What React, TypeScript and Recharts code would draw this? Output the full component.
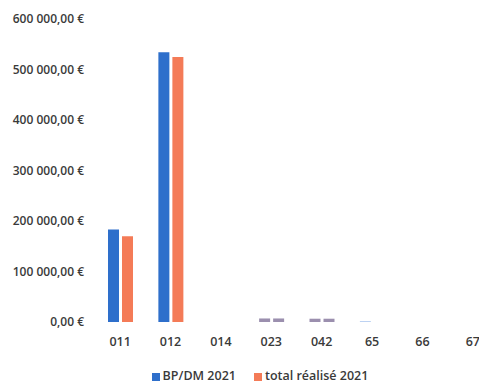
import { BarChart, Bar, XAxis, YAxis, Legend, Cell } from 'recharts';

const chapitres = ['011', '012', '014', '023', '042', '65', '66', '67'];
const bpDm2021 = [183000, 534000, 0, 7000, 6500, 1500, 0, 0];
const realise2021 = [170000, 525000, 0, 7000, 6500, 0, 0, 0];
const yTicks = [0, 100000, 200000, 300000, 400000, 500000, 600000];

const BLUE = '#2e6fcb';
const ORANGE = '#f47b57';
const GREY = '#9b8fae';
const PALE_BLUE = '#a8c4ee';

// small chapters come out in a muted tone
const bpColors = [BLUE, BLUE, BLUE, GREY, GREY, PALE_BLUE, BLUE, BLUE];
const realiseColors = [ORANGE, ORANGE, ORANGE, GREY, GREY, ORANGE, ORANGE, ORANGE];

const data = chapitres.map((c, i) => ({
  chapitre: c,
  bp: bpDm2021[i],
  realise: realise2021[i],
}));

const formatEuro = (v: number) => {
  const int = Math.round(v).toString().replace(/\B(?=(\d{3})+(?!\d))/g, ' ');
  return `${int},00 €`;
};

const FONT = '"Open Sans", sans-serif';

export default function App() {
  return (
    <div
      style={{
        position: 'fixed',
        left: 0,
        top: 0,
        width: 479,
        height: 386,
        overflow: 'hidden',
        background: '#fff',
        fontFamily: FONT,
      }}
    >
      <BarChart
        width={510}
        height={386}
        data={data}
        margin={{ top: 19, right: 12, left: 0, bottom: 0 }}
        barSize={11}
        barGap={3}
      >
        <YAxis
          width={95}
          domain={[0, 600000]}
          ticks={yTicks}
          tickFormatter={formatEuro}
          axisLine={false}
          tickLine={false}
          tickSize={0}
          tickMargin={11}
          tick={{ fontSize: 12, fill: '#3a3a3a', fontWeight: 600, fontFamily: FONT }}
        />
        <XAxis
          dataKey="chapitre"
          height={44}
          axisLine={false}
          tickLine={false}
          tickSize={0}
          tickMargin={15}
          interval={0}
          tick={{ fontSize: 12.5, fill: '#3a3a3a', fontWeight: 600, fontFamily: FONT }}
        />
        <Legend
          verticalAlign="bottom"
          iconType="square"
          iconSize={8}
          wrapperStyle={{
            fontSize: 12.5,
            fontWeight: 600,
            fontFamily: FONT,
            lineHeight: '20px',
            paddingLeft: 40,
            boxSizing: 'border-box',
          }}
          formatter={(value) => (
            <span style={{ color: '#3a3a3a', marginRight: 8, marginLeft: -1 }}>{value}</span>
          )}
        />
        <Bar dataKey="bp" name="BP/DM 2021" fill={BLUE} isAnimationActive={false}>
          {data.map((d, i) => (
            <Cell key={d.chapitre} fill={bpColors[i]} />
          ))}
        </Bar>
        <Bar dataKey="realise" name="total réalisé 2021" fill={ORANGE} isAnimationActive={false}>
          {data.map((d, i) => (
            <Cell key={d.chapitre} fill={realiseColors[i]} />
          ))}
        </Bar>
      </BarChart>
    </div>
  );
}
